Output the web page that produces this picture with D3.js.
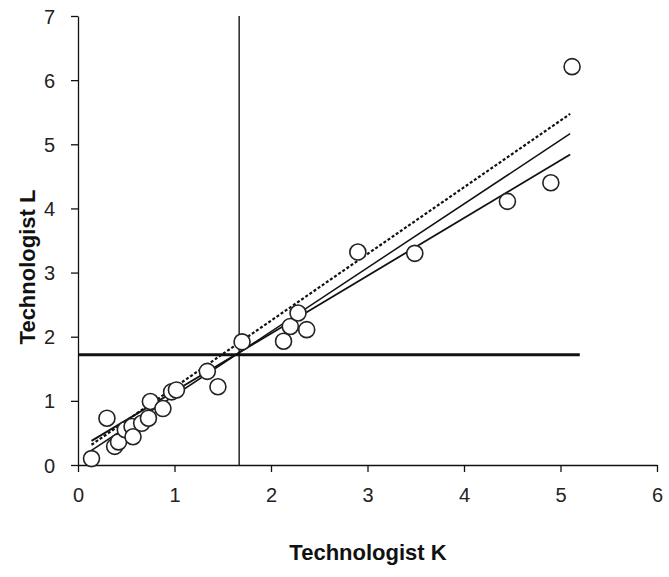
<!DOCTYPE html>
<html>
<head>
<meta charset="utf-8">
<script src="https://cdn.jsdelivr.net/npm/d3@7/dist/d3.min.js"></script>
<style>
  html, body { margin: 0; padding: 0; background: #fff; }
  svg { display: block; }
  text { font-family: "Liberation Sans", Arial, sans-serif; }
</style>
</head>
<body>
<svg id="chart" width="669" height="577"></svg>
<script>
// ---- data ----
const techK = [0.14, 0.30, 0.38, 0.42, 0.49, 0.56, 0.57, 0.66, 0.73, 0.75, 0.88, 0.97, 1.02, 1.34, 1.45, 1.70, 2.13, 2.20, 2.28, 2.37, 2.90, 3.49, 4.45, 4.90, 5.12];
const techL = [0.10, 0.73, 0.29, 0.36, 0.55, 0.60, 0.44, 0.65, 0.73, 0.99, 0.88, 1.14, 1.17, 1.46, 1.22, 1.92, 1.93, 2.16, 2.37, 2.11, 3.32, 3.30, 4.11, 4.40, 6.21];
const meanK = 1.67;
const meanL = 1.72;
const meanLineEnd = 5.2;
const fitNames = ["upper", "fit", "lower"];
const fitSlopes = [1.04, 0.995, 0.90];
const fitIntercepts = [0.17, 0.09, 0.25];
const fitStart = 0.14;
const fitEnd = 5.1;
const xTicks = [0, 1, 2, 3, 4, 5, 6];
const yTicks = [0, 1, 2, 3, 4, 5, 6, 7];
const xTitle = "Technologist K";
const yTitle = "Technologist L";

// ---- layout ----
const svg = d3.select("#chart");
const x = d3.scaleLinear().domain([0, 6]).range([78, 657]);
const y = d3.scaleLinear().domain([0, 7]).range([465, 16]);
const textColor = "#222";

// axes
const xAxis = svg.append("g").attr("transform", `translate(0,${y(0)})`)
  .call(d3.axisBottom(x).tickValues(xTicks).tickFormat(d3.format("d")).tickSize(7).tickSizeOuter(0).tickPadding(16));
const yAxis = svg.append("g").attr("transform", `translate(${x(0)},0)`)
  .call(d3.axisLeft(y).tickValues(yTicks).tickFormat(d3.format("d")).tickSize(7).tickSizeOuter(0).tickPadding(16));
[xAxis, yAxis].forEach(g => {
  g.select(".domain").attr("stroke", "#111").attr("stroke-width", 1.3);
  g.selectAll(".tick line").attr("stroke", "#111").attr("stroke-width", 1.3);
  g.selectAll(".tick text").attr("font-size", 20).attr("fill", textColor)
    .attr("font-family", "'Liberation Sans', Arial, sans-serif");
});
yAxis.selectAll(".tick text").attr("dy", "0.35em");

// mean lines
svg.append("line")
  .attr("x1", x(meanK)).attr("x2", x(meanK))
  .attr("y1", y(7)).attr("y2", y(0))
  .attr("stroke", "#222").attr("stroke-width", 1.5);
svg.append("line")
  .attr("x1", x(0)).attr("x2", x(meanLineEnd))
  .attr("y1", y(meanL)).attr("y2", y(meanL))
  .attr("stroke", "#111").attr("stroke-width", 3);

// fit lines
const fits = fitNames.map((n, i) => ({ name: n, slope: fitSlopes[i], intercept: fitIntercepts[i] }));
svg.append("g").selectAll("line").data(fits).join("line")
  .attr("x1", x(fitStart)).attr("x2", x(fitEnd))
  .attr("y1", d => y(d.slope * fitStart + d.intercept))
  .attr("y2", d => y(d.slope * fitEnd + d.intercept))
  .attr("stroke", "#111")
  .attr("stroke-width", d => d.name === "upper" ? 2.2 : (d.name === "lower" ? 1.8 : 1.5))
  .attr("stroke-dasharray", d => d.name === "upper" ? "3,2" : null);

// points
const pts = techK.map((k, i) => ({ k, l: techL[i] }));
svg.append("g").selectAll("circle").data(pts).join("circle")
  .attr("cx", d => x(d.k)).attr("cy", d => y(d.l)).attr("r", 8)
  .attr("fill", "#fff").attr("stroke", "#222").attr("stroke-width", 1.6);

// titles
svg.append("text").attr("x", 368).attr("y", 560).attr("text-anchor", "middle")
  .attr("font-size", 22).attr("font-weight", "bold").attr("fill", "#111").text(xTitle);
svg.append("text").attr("transform", "translate(35,267) rotate(-90)").attr("text-anchor", "middle")
  .attr("font-size", 22).attr("font-weight", "bold").attr("fill", "#111").text(yTitle);
</script>
</body>
</html>
